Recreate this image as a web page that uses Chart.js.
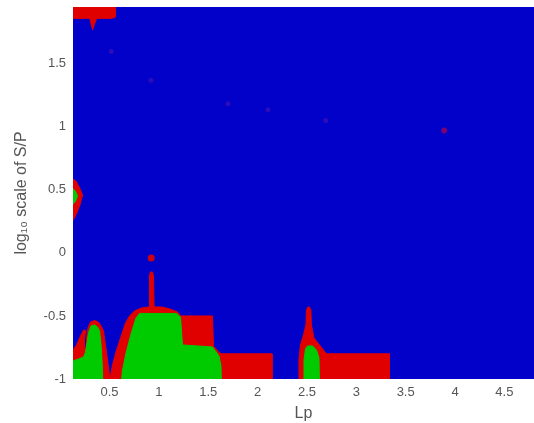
<!DOCTYPE html>
<html>
<head>
<meta charset="utf-8">
<script src="https://cdn.jsdelivr.net/npm/chart.js@4.4.1/dist/chart.umd.min.js"></script>
<style>
  html, body { margin: 0; padding: 0; background: #fff; }
  #wrap { width: 534px; height: 423px; }
</style>
</head>
<body>
<div id="wrap"><canvas id="map"></canvas></div>
<script>
const xTicks = [0.5, 1, 1.5, 2, 2.5, 3, 3.5, 4, 4.5];
const yTicks = [-1, -0.5, 0, 0.5, 1, 1.5];
const xRange = [0.13, 4.8];
const yRange = [-1, 1.95];

// region outlines as [Lp, log10 S/P] pairs
const redTopLeft = [[0.1, 2.0], [0.56, 2.0], [0.56, 1.87], [0.52, 1.86], [0.37, 1.86], [0.345, 1.81],
  [0.33, 1.77], [0.315, 1.81], [0.3, 1.86], [0.1, 1.86]];
const redMid = [[0.1, 0.6], [0.16, 0.57], [0.2, 0.51], [0.227, 0.46], [0.2, 0.38], [0.16, 0.3], [0.1, 0.22]];
const greenMid = [[0.1, 0.53], [0.155, 0.49], [0.175, 0.45], [0.155, 0.41], [0.1, 0.36]];

const redLow1 = [[0.1, -1.05], [0.1, -0.8], [0.166, -0.73], [0.206, -0.659], [0.237, -0.611], [0.257, -0.615],
  [0.247, -0.69], [0.252, -0.77], [0.262, -0.746], [0.267, -0.675], [0.282, -0.595], [0.308, -0.548],
  [0.348, -0.536], [0.378, -0.544], [0.409, -0.571], [0.439, -0.619], [0.459, -0.73], [0.48, -0.849],
  [0.5, -0.976], [0.505, -1.05]];
const greenLow1 = [[0.1, -1.05], [0.1, -0.865], [0.186, -0.841], [0.237, -0.825], [0.257, -0.786],
  [0.272, -0.714], [0.287, -0.635], [0.313, -0.579], [0.348, -0.571], [0.378, -0.587], [0.399, -0.619],
  [0.414, -0.73], [0.424, -0.849], [0.434, -1.05]];

const redLow2 = [[0.505, -1.05], [0.51, -0.976], [0.53, -0.889], [0.571, -0.77], [0.622, -0.651],
  [0.662, -0.556], [0.703, -0.5], [0.753, -0.46], [0.824, -0.437], [0.9, -0.429], [0.905, -0.183],
  [0.915, -0.151], [0.935, -0.151], [0.946, -0.183], [0.951, -0.429], [1.027, -0.429], [1.108, -0.444],
  [1.189, -0.468], [1.219, -0.5], [1.543, -0.5], [1.553, -0.738], [1.614, -0.794], [1.644, -0.8],
  [2.146, -0.8], [2.146, -1.05]];
const greenLow2 = [[0.616, -1.05], [0.632, -0.929], [0.667, -0.794], [0.718, -0.643], [0.768, -0.516],
  [0.804, -0.48], [1.178, -0.48], [1.219, -0.508], [1.239, -0.73], [1.543, -0.746], [1.609, -0.817],
  [1.629, -0.897], [1.634, -1.05]];

const redLow3 = [[2.414, -1.05], [2.419, -0.849], [2.434, -0.73], [2.465, -0.651], [2.49, -0.571],
  [2.495, -0.452], [2.51, -0.429], [2.525, -0.429], [2.54, -0.452], [2.545, -0.571], [2.571, -0.675],
  [2.627, -0.73], [2.697, -0.8], [3.335, -0.8], [3.335, -1.05]];
const greenLow3 = [[2.465, -1.05], [2.47, -0.849], [2.485, -0.762], [2.505, -0.738], [2.556, -0.738],
  [2.597, -0.77], [2.622, -0.833], [2.627, -1.05]];

// isolated spots
const spotsStrong = [[0.922, -0.04]];
const spotsMid = [[3.89, 0.97]];
const spotsFaint = [[0.517, 1.598], [0.92, 1.37], [1.7, 1.183], [2.105, 1.135], [2.69, 1.05]];

const blue = "#0101C9";
const red = "#E10000";
const green = "#00CB00";

const toPts = (arr) => arr.map(([x, y]) => ({ x: x, y: y }));

const region = (arr, color) => ({
    data: toPts(arr),
    fill: "shape",
    backgroundColor: color,
    borderColor: color,
    borderWidth: 1,
    pointRadius: 0,
    tension: 0,
});

const spots = (arr, r, color) => ({
    data: toPts(arr),
    showLine: false,
    pointRadius: r,
    pointBorderWidth: 0,
    pointBackgroundColor: color,
});

const mapBackground = {
    id: "mapBackground",
    beforeDraw(chart) {
        const { ctx, chartArea: a } = chart;
        ctx.save();
        ctx.fillStyle = "#ffffff";
        ctx.fillRect(0, 0, chart.width, chart.height);
        ctx.fillStyle = blue;
        ctx.fillRect(a.left, a.top, a.right - a.left, a.bottom - a.top);
        ctx.restore();
    },
};

const tickFont = { family: "Liberation Sans, Arial, sans-serif", size: 13 };
const titleFont = { family: "Liberation Sans, Arial, sans-serif", size: 16 };

new Chart(document.getElementById("map"), {
    type: "line",
    plugins: [mapBackground],
    data: {
        datasets: [
            spots(spotsStrong, 3.5, "rgba(225,0,0,0.9)"),
            spots(spotsMid, 3, "rgba(200,0,60,0.6)"),
            spots(spotsFaint, 2.5, "rgba(150,40,160,0.3)"),
            region(greenMid, green),
            region(greenLow1, green),
            region(greenLow2, green),
            region(greenLow3, green),
            region(redTopLeft, red),
            region(redMid, red),
            region(redLow1, red),
            region(redLow2, red),
            region(redLow3, red),
        ],
    },
    options: {
        responsive: true,
        maintainAspectRatio: false,
        animation: false,
        layout: { autoPadding: false, padding: { top: 7, right: 0, left: 0, bottom: 0 } },
        plugins: {
            legend: { display: false },
            tooltip: { enabled: false },
        },
        scales: {
            x: {
                type: "linear",
                min: xRange[0],
                max: xRange[1],
                grid: { display: false, drawTicks: false },
                border: { display: false },
                afterBuildTicks: (s) => { s.ticks = xTicks.map((v) => ({ value: v })); },
                afterFit: (s) => {
                    s.height = 44;
                    s.paddingLeft = 0;
                    s.paddingRight = 0;
                },
                ticks: {
                    autoSkip: false,
                    maxRotation: 0,
                    padding: 6,
                    color: "#555",
                    font: tickFont,
                    callback: (v) => String(v),
                },
                title: {
                    display: true,
                    text: "Lp",
                    color: "#555",
                    font: titleFont,
                    padding: { top: 0, bottom: 0 },
                },
            },
            y: {
                type: "linear",
                min: yRange[0],
                max: yRange[1],
                grid: { display: false, drawTicks: false },
                border: { display: false },
                afterBuildTicks: (s) => { s.ticks = yTicks.map((v) => ({ value: v })); },
                afterFit: (s) => {
                    s.width = 73;
                    s.paddingTop = 0;
                    s.paddingBottom = 0;
                },
                ticks: {
                    autoSkip: false,
                    padding: 7,
                    color: "#555",
                    font: tickFont,
                    callback: (v) => String(v),
                },
                title: {
                    display: true,
                    text: "log\u2081\u2080 scale of S/P",
                    color: "#555",
                    font: titleFont,
                    padding: { top: 12, bottom: 0 },
                },
            },
        },
    },
});
</script>
</body>
</html>
